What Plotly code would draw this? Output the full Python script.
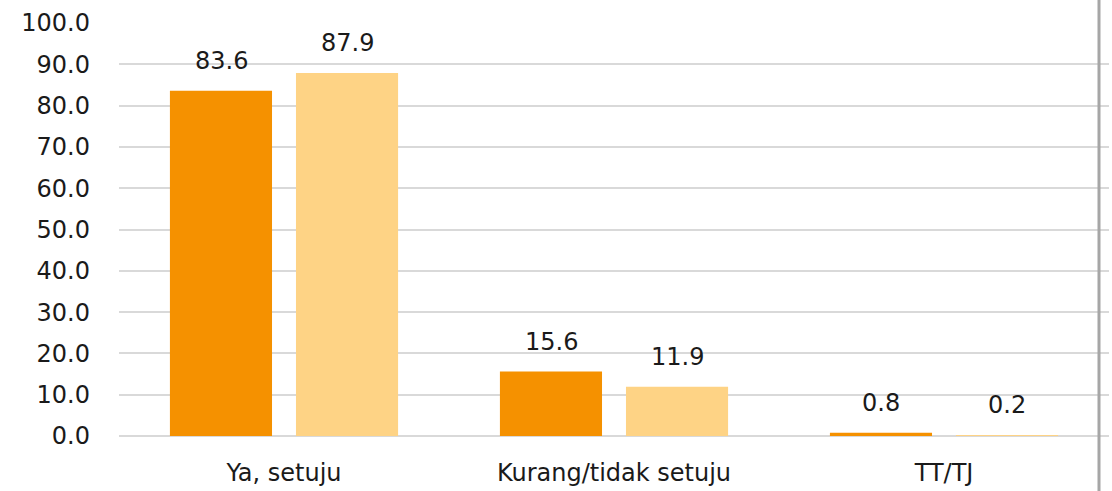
import plotly.graph_objects as go

categories = ["Ya, setuju", "Kurang/tidak setuju", "TT/TJ"]
series_a = [83.6, 15.6, 0.8]
series_b = [87.9, 11.9, 0.2]
tick_vals = [0, 10, 20, 30, 40, 50, 60, 70, 80, 90, 100]
tick_text = [f"{v:.1f}" for v in tick_vals]

color_a = "#F59100"
color_b = "#FED385"
font_family = "'DejaVu Sans', sans-serif"
font_color = "#1a1a1a"

fig = go.Figure()
fig.add_trace(go.Bar(x=categories, y=series_a, marker=dict(color=color_a, line=dict(width=0)), name="A"))
fig.add_trace(go.Bar(x=categories, y=series_b, marker=dict(color=color_b, line=dict(width=0)), name="B"))

# data labels
for vals, shift in ((series_a, -63), (series_b, 63)):
    for c, v in zip(categories, vals):
        fig.add_annotation(x=c, y=v, text=f"{v:.1f}", showarrow=False,
                           xshift=shift, yanchor="bottom", yshift=14,
                           font=dict(family=font_family, size=24, color=font_color))

fig.add_shape(type="line", xref="paper", yref="paper", x0=0.9899, x1=0.9899, y0=-0.3, y1=1.1,
              line=dict(color="#A6A6A6", width=3), layer="above")

fig.update_layout(
    width=1112, height=491,
    margin=dict(l=119, r=3, t=23, b=55, autoexpand=False),
    paper_bgcolor="white", plot_bgcolor="white",
    barmode="group", bargap=0.236, bargroupgap=0.19,
    showlegend=False,
    font=dict(family=font_family, size=24, color=font_color),
    xaxis=dict(showgrid=False, showline=False, ticks="", ticklabelstandoff=20,
               automargin=False, tickfont=dict(size=24)),
    yaxis=dict(range=[0, 100], tickvals=tick_vals, ticktext=tick_text,
               showgrid=True, gridcolor="#D9D9D9", gridwidth=2, zeroline=True,
               zerolinecolor="#D9D9D9", zerolinewidth=2, showline=False,
               automargin=False, ticks="", ticklabelstandoff=28, tickfont=dict(size=24)),
)

fig.write_html("out.html", config={"displayModeBar": False},
               post_script="document.body.style.margin='0';document.body.style.overflow='hidden';")
